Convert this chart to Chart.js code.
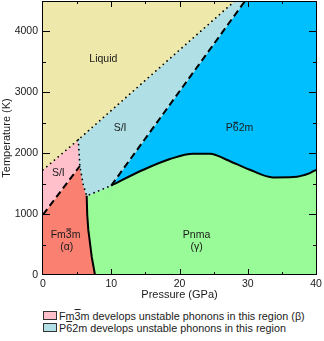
<!DOCTYPE html>
<html><head><meta charset="utf-8">
<script src="https://cdn.jsdelivr.net/npm/chart.js@4/dist/chart.umd.min.js"></script>
<style>
html,body{margin:0;padding:0;background:#fff;}
#wrap{position:relative;width:324px;height:341px;overflow:hidden;}
#c{position:absolute;left:0;top:0;}
.box{position:absolute;left:43px;width:14px;height:9px;box-sizing:border-box;border:1px solid #333;}
.txt{position:absolute;left:59px;font:10.8px "Liberation Sans",Arial,sans-serif;color:#222;white-space:nowrap;line-height:12px;}
.ov{text-decoration:overline;}
</style>
</head><body>
<div id="wrap">
<canvas id="c" width="324" height="305"></canvas>
<div class="box" style="top:311px;background:#FFC0CB"></div>
<div class="txt" style="top:309.5px">Fm<span class="ov">3</span>m develops unstable phonons in this region (β)</div>
<div class="box" style="top:323px;background:#B0E0E6"></div>
<div class="txt" style="top:321.5px">P<span class="ov">6</span>2m develops unstable phonons in this region</div>
</div>
<script>
// ---- data: [pressure (GPa), temperature (K)] ----
const meltLine = [[0,1728],[5.17,2222],[28.1,4500]];                 // dotted: liquid boundary
const fm3mUnstable = [[5.17,2222],[5.4,1790],[5.9,1481],[6.4,1300]]; // dotted, near-vertical
const p62mUnstableBottom = [[6.4,1300],[8.2,1385],[10,1470]];        // dotted, bottom of S/I
const fm3mDashed = [[0,990],[5.4,1790]];                             // dashed, lower
const p62mDashed = [[10,1470],[29.6,4500]];                          // dashed, upper
const fm3mPnma = [[6.4,1300],[6.48,990],[6.64,740],[6.92,494],[7.14,296],[7.62,0]]; // solid
const pnmaP62m = [[10,1470],[14.7,1728],[18.6,1905],[22.0,1992],[24.5,1992],[26.9,1893],[30.3,1728],[33.7,1602],[36.7,1608],[39.1,1674],[40,1728]]; // solid
const pressureRange = [0,40];
const temperatureRange = [0,4500];
const xTickStep = 5, xLabelStep = 10;
const yTickStep = 500, yLabelStep = 1000;

const phaseLabels = ['Liquid','S/I','S/I','P6\u03052m','Fm3\u0305m','(\u03b1)','Pnma','(\u03b3)'];
const phaseLabelP = [8.84, 11.3, 2.25, 28.8, 3.3, 3.47, 22.5, 22.5];
const phaseLabelT = [3542, 2409, 1670, 2409, 657, 465, 657, 465];

const COL = {liquid:'#EEE8AA', si:'#B0E0E6', blue:'#00BFFF', green:'#98FB98', red:'#FA8072', pink:'#FFC0CB'};

const [P0,P1] = pressureRange, [T0,T1] = temperatureRange;
const rev = a => a.slice().reverse();
const regions = {
  blue: [p62mDashed[0], p62mDashed[1], [P1,T1], [P1,T0], [p62mDashed[0][0],T0]],
  greenLeft: [...p62mUnstableBottom, [p62mDashed[0][0]+0.5,T0], ...rev(fm3mPnma)],
  red: [fm3mDashed[0], fm3mDashed[1], ...fm3mUnstable.slice(2), ...fm3mPnma.slice(1), [P0,T0]],
  pink: [meltLine[0], meltLine[1], fm3mUnstable[1], fm3mDashed[0]],
  si: [meltLine[1], meltLine[2], p62mDashed[1], ...rev(p62mUnstableBottom), ...rev(fm3mUnstable).slice(1,3)],
  liquid: [...meltLine, [P0,T1]]
};
const toXY = pts => pts.map(([x,y])=>({x,y}));
function regionDs(pts, color, order){
  return {data: toXY([...pts, pts[0]]), showLine:true, fill:'shape', backgroundColor:color,
    borderColor:color, borderWidth:1, pointRadius:0, order};
}
function lineDs(pts, kind, order, extra){
  const o = {data: toXY(pts), showLine:true, fill:false, borderColor:'#000', pointRadius:0, order};
  if (kind==='dot'){ o.borderWidth=1.8; o.borderDash=[0,5]; o.borderCapStyle='round'; }
  else if (kind==='dash'){ o.borderWidth=2; o.borderDash=[7,4]; o.borderCapStyle='butt'; }
  else { o.borderWidth=2; }
  return Object.assign(o, extra||{});
}
const datasets = [
  regionDs(regions.blue, COL.blue, 30),
  {data: toXY(pnmaP62m), showLine:true, fill:'start', backgroundColor:COL.green, borderColor:COL.green,
   borderWidth:1, pointRadius:0, cubicInterpolationMode:'monotone', order:29},
  regionDs(regions.greenLeft, COL.green, 28),
  regionDs(regions.red, COL.red, 27),
  regionDs(regions.pink, COL.pink, 26),
  regionDs(regions.si, COL.si, 25),
  regionDs(regions.liquid, COL.liquid, 24),
  lineDs(meltLine,'dot',6),
  lineDs([...fm3mUnstable, ...p62mUnstableBottom.slice(1)],'dot',5),
  lineDs(fm3mDashed,'dash',4),
  lineDs(p62mDashed,'dash',3),
  lineDs(fm3mPnma,'solid',2),
  lineDs(pnmaP62m,'solid',1,{cubicInterpolationMode:'monotone'})
];

const FONT = '"Liberation Sans", Arial, sans-serif';
const frameTicks = {
  id:'frameTicks',
  afterDatasetsDraw(chart){
    const {ctx, chartArea:a, scales:{x,y}} = chart;
    ctx.save();
    ctx.strokeStyle='#000'; ctx.lineWidth=1;
    ctx.beginPath();
    x.ticks.forEach(t=>{
      if (t.value<=P0 || t.value>=P1) return;
      const px = Math.round(x.getPixelForValue(t.value))+0.5;
      const L = t.value % xLabelStep === 0 ? 6 : 3;
      ctx.moveTo(px,a.bottom); ctx.lineTo(px,a.bottom-L);
      ctx.moveTo(px,a.top); ctx.lineTo(px,a.top+L);
    });
    y.ticks.forEach(t=>{
      if (t.value<=T0 || t.value>=T1) return;
      const py = Math.round(y.getPixelForValue(t.value))+0.5;
      const L = t.value % yLabelStep === 0 ? 7 : 3;
      ctx.moveTo(a.left,py); ctx.lineTo(a.left+L,py);
      ctx.moveTo(a.right,py); ctx.lineTo(a.right-L,py);
    });
    ctx.stroke();
    ctx.strokeRect(Math.round(a.left)-0.5, Math.round(a.top)+0.5, Math.round(a.width)+1, Math.round(a.height)-1);
    // phase labels
    ctx.fillStyle='#1a1a1a';
    ctx.font = '10.5px ' + FONT;
    ctx.textBaseline='middle'; ctx.textAlign='left';
    phaseLabels.forEach((txt,i)=>{
      const cx = x.getPixelForValue(phaseLabelP[i]), cy = y.getPixelForValue(phaseLabelT[i]);
      const parts=[];
      for (const ch of txt){ if (ch==='\u0305'){ if(parts.length) parts[parts.length-1].bar=true; } else parts.push({ch,bar:false}); }
      const w = parts.map(p=>ctx.measureText(p.ch).width);
      let px = cx - w.reduce((s,v)=>s+v,0)/2;
      parts.forEach((p,j)=>{
        ctx.fillText(p.ch, px, cy);
        if (p.bar) ctx.fillRect(px+0.5, cy-6.5, w[j]-1, 1);
        px += w[j];
      });
    });
    ctx.restore();
  }
};

new Chart(document.getElementById('c'), {
  type:'scatter',
  data:{datasets},
  options:{
    responsive:false, animation:false, events:[],
    layout:{padding:{top:1,right:8,left:0,bottom:0}},
    plugins:{legend:{display:false}, tooltip:{enabled:false}},
    scales:{
      x:{type:'linear', min:P0, max:P1,
        ticks:{stepSize:xTickStep, autoSkip:false, maxRotation:0, padding:3, color:'#1a1a1a',
          font:{family:FONT,size:10.5}, callback:v=> v % xLabelStep === 0 ? String(v) : ''},
        grid:{display:false, drawTicks:false},
        border:{display:false},
        title:{display:true, text:'Pressure (GPa)', color:'#1a1a1a', font:{family:FONT,size:11}, padding:{top:0,bottom:3}},
        afterFit(s){ s.height = 30; s.paddingLeft = 0; s.paddingRight = 0; }
      },
      y:{type:'linear', min:T0, max:T1,
        ticks:{stepSize:yTickStep, autoSkip:false, padding:5, color:'#1a1a1a',
          font:{family:FONT,size:10.5}, callback:v=> v % yLabelStep === 0 ? String(v) : ''},
        grid:{display:false, drawTicks:false},
        border:{display:false},
        title:{display:true, text:'Temperature (K)', color:'#1a1a1a', font:{family:FONT,size:11}, padding:{top:0,bottom:0}},
        afterFit(s){ s.width = 43; s.paddingTop = 0; s.paddingBottom = 0; }
      }
    }
  },
  plugins:[frameTicks]
});
</script>
</body></html>
